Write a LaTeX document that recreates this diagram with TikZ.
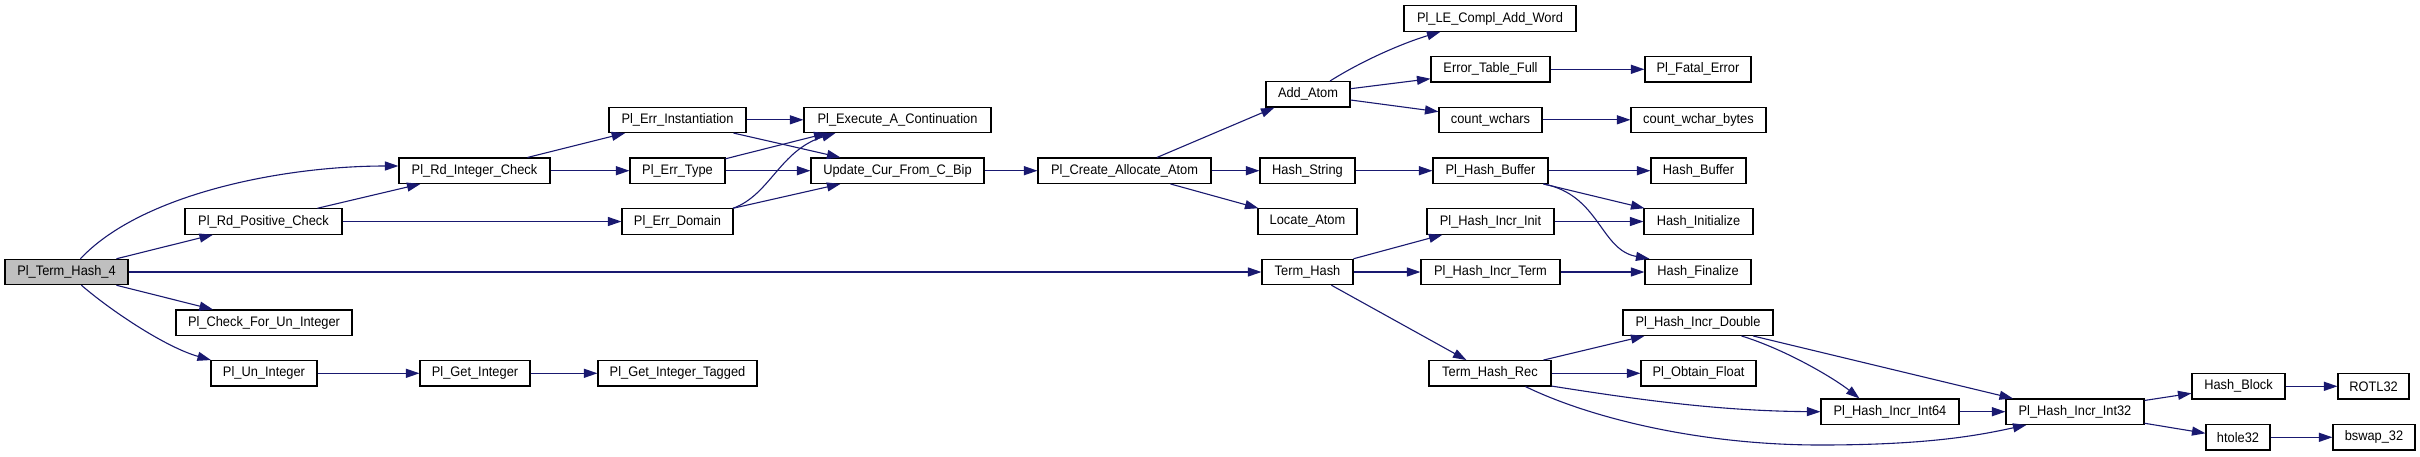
\documentclass[tikz,border=0pt]{standalone}
\usepackage{fontspec}
\setmainfont{Liberation Sans}[FakeStretch=0.93]
\usetikzlibrary{arrows.meta}
\definecolor{edgec}{HTML}{191970}
\definecolor{rootfill}{HTML}{BFBFBF}
\tikzset{
  box/.style={draw=black, fill=white, line width=1.1pt, rectangle, inner sep=0pt,
    minimum height=25.4pt, font=\fontsize{13.8}{15}\selectfont, text=black},
  call/.style={draw=edgec, line width=1.1pt, -{Triangle[length=13.5pt,width=9pt]}},
}
\newcommand\bx[6][]{\node[box,#1, minimum width={(#4-#3)*1pt}] (#2) at ({(#3+#4)/2},#5) {#6};}
\begin{document}
\begin{tikzpicture}[x=1pt,y=-1pt]
\fill[white] (0,0) rectangle (2420,456);
\useasboundingbox (0,0) rectangle (2420,456);
% rows
\def\rA{18.5}\def\rB{69.3}\def\rBp{94.3}\def\rC{119.8}\def\rD{170.7}\def\rE{221.5}
\def\rF{272}\def\rG{322.7}\def\rH{373.3}\def\rHp{386.3}\def\rI{411.7}\def\rJ{437.3}
\bx[fill=rootfill]{t4}{5}{128}{\rF}{Pl\_Term\_Hash\_4}
\bx{ric}{399}{550}{\rD}{Pl\_Rd\_Integer\_Check}
\bx{rpc}{185}{342}{\rE}{Pl\_Rd\_Positive\_Check}
\bx{cfu}{176}{352}{\rG}{Pl\_Check\_For\_Un\_Integer}
\bx{uni}{211}{317}{\rH}{Pl\_Un\_Integer}
\bx{gi}{420}{530}{\rH}{Pl\_Get\_Integer}
\bx{git}{598}{757}{\rH}{Pl\_Get\_Integer\_Tagged}
\bx{ei}{609}{746}{\rC}{Pl\_Err\_Instantiation}
\bx{et}{630}{725}{\rD}{Pl\_Err\_Type}
\bx{ed}{622}{733}{\rE}{Pl\_Err\_Domain}
\bx{eac}{804}{991}{\rC}{Pl\_Execute\_A\_Continuation}
\bx{uc}{811}{984}{\rD}{Update\_Cur\_From\_C\_Bip}
\bx{caa}{1038}{1211}{\rD}{Pl\_Create\_Allocate\_Atom}
\bx{lec}{1404}{1576}{\rA}{Pl\_LE\_Compl\_Add\_Word}
\bx{aa}{1266}{1350}{\rBp}{Add\_Atom}
\bx{etf}{1431}{1550}{\rB}{Error\_Table\_Full}
\bx{cw}{1439}{1542}{\rC}{count\_wchars}
\bx{fe}{1645}{1751}{\rB}{Pl\_Fatal\_Error}
\bx{cwb}{1631}{1766}{\rC}{count\_wchar\_bytes}
\bx{hs}{1260}{1355}{\rD}{Hash\_String}
\bx{hb}{1433}{1548}{\rD}{Pl\_Hash\_Buffer}
\bx{hbuf}{1651}{1746}{\rD}{Hash\_Buffer}
\bx{la}{1258}{1357}{\rE}{Locate\_Atom}
\bx{hii}{1427}{1554}{\rE}{Pl\_Hash\_Incr\_Init}
\bx{hin}{1644}{1753}{\rE}{Hash\_Initialize}
\bx{th}{1262}{1353}{\rF}{Term\_Hash}
\bx{hit}{1421}{1560}{\rF}{Pl\_Hash\_Incr\_Term}
\bx{hf}{1645}{1751}{\rF}{Hash\_Finalize}
\bx{hid}{1623}{1773}{\rG}{Pl\_Hash\_Incr\_Double}
\bx{thr}{1429}{1551}{\rH}{Term\_Hash\_Rec}
\bx{of}{1641}{1756}{\rH}{Pl\_Obtain\_Float}
\bx{i64}{1821}{1959}{\rI}{Pl\_Hash\_Incr\_Int64}
\bx{i32}{2006}{2144}{\rI}{Pl\_Hash\_Incr\_Int32}
\bx{hbl}{2192}{2285}{\rHp}{Hash\_Block}
\bx{rot}{2338}{2409}{\rHp}{ROTL32}
\bx{ht}{2206}{2270}{\rJ}{htole32}
\bx{bs}{2333}{2415}{\rJ}{bswap\_32}
% edges
\draw[call] ([xshift=76pt]t4.north west) .. controls (140,195) and (280,166) .. ([yshift=4.7pt]ric.west);
\draw[call] ([xshift=112pt]t4.north west) -- ([xshift=28.5pt]rpc.south west);
\draw[call] (t4.east) -- (th.west);
\draw[call] ([xshift=112pt]t4.south west) -- ([xshift=37.5pt]cfu.north west);
\draw[call] ([xshift=77pt]t4.south west) .. controls (110,310) and (165,347) .. ([xshift=0.5pt]uni.north west);
\draw[call] ([xshift=133pt]rpc.north west) -- ([xshift=22pt]ric.south west);
\draw[call] (rpc.east) -- (ed.west);
\draw[call] ([xshift=129pt]ric.north west) -- ([xshift=16.7pt]ei.south west);
\draw[call] (ric.east) -- (et.west);
\draw[call] (ei.east) -- (eac.west);
\draw[call] ([xshift=125pt]ei.south west) -- ([xshift=30pt]uc.north west);
\draw[call] ([yshift=-1.3pt]et.north east) -- ([xshift=24pt]eac.south west);
\draw[call] (et.east) -- (uc.west);
\draw[call] ([xshift=-0.5pt]ed.north east) .. controls (770,195) and (780,150) .. ([xshift=32pt]eac.south west);
\draw[call] ([xshift=-0.5pt]ed.north east) -- ([xshift=30pt]uc.south west);
\draw[call] (uc.east) -- (caa.west);
\draw[call] ([xshift=119.5pt]caa.north west) -- ([xshift=9pt]aa.south west);
\draw[call] (caa.east) -- (hs.west);
\draw[call] ([xshift=133pt]caa.south west) -- ([xshift=1pt]la.north west);
\draw[call] ([xshift=64.5pt]aa.north west) .. controls (1360,62) and (1400,44) .. ([xshift=37pt]lec.south west);
\draw[call] ([yshift=5.6pt]aa.east) -- ([yshift=-9.4pt]etf.west);
\draw[call] ([yshift=-5.7pt]aa.east) -- ([yshift=8.1pt]cw.west);
\draw[call] (etf.east) -- (fe.west);
\draw[call] (cw.east) -- (cwb.west);
\draw[call] (hs.east) -- (hb.west);
\draw[call] (hb.east) -- (hbuf.west);
\draw[call] ([xshift=111pt]hb.south west) -- ([xshift=1pt]hin.north west);
\draw[call] ([xshift=111pt]hb.south west) .. controls (1600,195) and (1600,250) .. ([xshift=5pt]hf.north west);
\draw[call] (th.north east) -- ([xshift=16pt]hii.south west);
\draw[call] (th.east) -- (hit.west);
\draw[call] ([xshift=70pt]th.south west) -- ([xshift=38pt]thr.north west);
\draw[call] (hii.east) -- (hin.west);
\draw[call] (hit.east) -- (hf.west);
\draw[call] ([xshift=115pt]thr.north west) -- ([xshift=22pt]hid.south west);
\draw[call] (thr.east) -- (of.west);
\draw[call] ([yshift=0.5pt]thr.south east) .. controls (1640,400) and (1720,411) .. (i64.west);
\draw[call] ([xshift=97pt]thr.south west) .. controls (1590,418) and (1700,445) .. (1820,445) .. controls (1930,445) and (1980,435) .. ([xshift=21pt]i32.south west);
\draw[call] ([xshift=119pt]hid.south west) .. controls (1787,350) and (1835,379) .. ([xshift=39pt]i64.north west);
\draw[call] ([xshift=130.6pt]hid.south west) -- ([xshift=7.5pt]i32.north west);
\draw[call] (i64.east) -- (i32.west);
\draw[call] ([yshift=-2pt]i32.north east) -- ([yshift=-7pt]hbl.west);
\draw[call] ([yshift=1.7pt]i32.south east) -- ([yshift=4pt]ht.west);
\draw[call] (hbl.east) -- (rot.west);
\draw[call] (ht.east) -- (bs.west);
\draw[call] (uni.east) -- (gi.west);
\draw[call] (gi.east) -- (git.west);
\end{tikzpicture}
\end{document}
